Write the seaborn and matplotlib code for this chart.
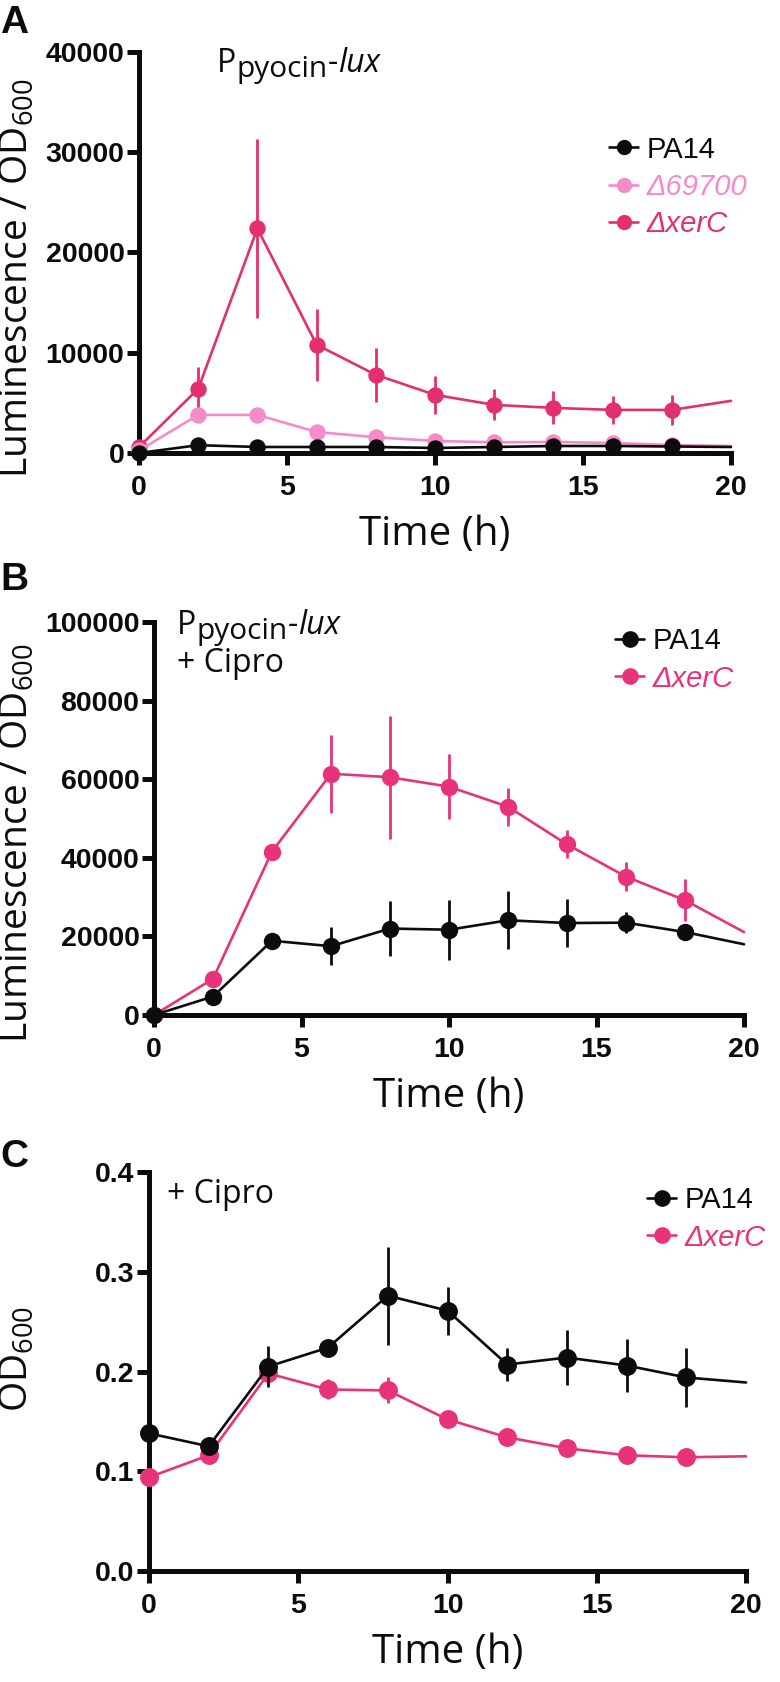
import numpy as np
import pandas as pd
import matplotlib
matplotlib.use("Agg")
import matplotlib.pyplot as plt
import seaborn as sns
from matplotlib import font_manager as fm
from matplotlib.lines import Line2D
from matplotlib.font_manager import FontProperties

# ---------------- data ----------------
time_h = [0, 2, 4, 6, 8, 10, 12, 14, 16, 18, 20]

# Panel A: Ppyocin-lux (no antibiotic)
a_pa14 = [0, 780, 600, 600, 600, 500, 600, 700, 700, 650, 600]
a_pa14_err = [0, 150, 100, 100, 100, 100, 100, 100, 100, 100, 0]
a_d69700 = [250, 3800, 3800, 2100, 1570, 1200, 1070, 1100, 1000, 800, 700]
a_d69700_err = [50, 300, 300, 200, 150, 100, 100, 100, 100, 100, 0]
a_xerc = [600, 6400, 22400, 10800, 7800, 5800, 4800, 4500, 4300, 4300, 5200]
a_xerc_err = [100, 2150, 8900, 3600, 2670, 1870, 1550, 1650, 1420, 1500, 0]

# Panel B: Ppyocin-lux + Cipro
b_pa14 = [0, 4700, 18900, 17500, 22000, 21700, 24100, 23400, 23500, 21100, 18000]
b_pa14_err = [0, 500, 1200, 4800, 7050, 7600, 7400, 6050, 2650, 800, 0]
b_xerc = [0, 9200, 41600, 61400, 60500, 58100, 53000, 43400, 35200, 29200, 21100]
b_xerc_err = [0, 500, 1000, 9900, 15600, 8300, 4800, 3550, 3750, 5400, 0]

# Panel C: OD600 + Cipro
c_pa14 = [0.138, 0.125, 0.205, 0.224, 0.276, 0.261, 0.207, 0.214, 0.206, 0.194, 0.189]
c_pa14_err = [0.004, 0.004, 0.021, 0.008, 0.049, 0.024, 0.017, 0.028, 0.027, 0.030, 0]
c_xerc = [0.094, 0.116, 0.198, 0.182, 0.181, 0.152, 0.134, 0.123, 0.116, 0.114, 0.115]
c_xerc_err = [0.004, 0.004, 0.005, 0.010, 0.013, 0.005, 0.004, 0.004, 0.003, 0.003, 0]

strain_labels = ["PA14", "\u039469700", "\u0394xerC"]
a_yticks = [0, 10000, 20000, 30000, 40000]
b_yticks = [0, 20000, 40000, 60000, 80000, 100000]
c_yticks = [0.0, 0.1, 0.2, 0.3, 0.4]
c_yticklabels = ["0.0", "0.1", "0.2", "0.3", "0.4"]
x_ticks = [0, 5, 10, 15, 20]

# ---------------- fonts ----------------
sns.set_theme(style="ticks")
avail = {(f.name, f.style) for f in fm.fontManager.ttflist}


def pick(cands, style="normal"):
    for c in cands:
        if (c, style) in avail:
            return c
    return cands[-1]


BODY = pick(["Open Sans", "Noto Sans", "Lato", "DejaVu Sans"])
BODY_IT = pick(["Open Sans", "Noto Sans", "Lato", "Liberation Sans", "DejaVu Sans"], "italic")
NARROW = pick(["Liberation Sans Narrow", "Liberation Sans", "DejaVu Sans"])
NARROW_IT = pick(["Liberation Sans Narrow", "Liberation Sans", "DejaVu Sans"], "italic")
BOLD = pick(["Liberation Sans", "DejaVu Sans"])

plt.rcParams["font.family"] = [BODY, "DejaVu Sans"]
plt.rcParams["mathtext.fontset"] = "custom"
plt.rcParams["mathtext.rm"] = BODY
plt.rcParams["mathtext.it"] = BODY_IT + ":italic"
plt.rcParams["mathtext.bf"] = BODY + ":bold"

BLACK = "#0c0c0c"
XERC_A = "#e2306f"
XERC = "#e8337a"
D697 = "#f58bc8"

W, H = 780, 1682
fig = plt.figure(figsize=(W / 100, H / 100), dpi=100)
fig.patch.set_facecolor("white")


def fx(px):
    return px / W


def fy(py):
    return 1 - py / H


def add_axes(l, t, r, b):
    return fig.add_axes([fx(l), fy(b), fx(r) - fx(l), fy(t) - fy(b)])


axA = add_axes(139, 52, 731, 453)
axB = add_axes(154, 622, 744, 1015)
axC = add_axes(149, 1172, 746, 1571)


def draw_series(ax, y, err, color, ms, z):
    sns.lineplot(x=time_h, y=y, ax=ax, color=color, linewidth=1.9,
                 marker="o", markersize=ms, markeredgewidth=0,
                 markeredgecolor=color, markevery=list(range(len(time_h) - 1)),
                 clip_on=False, zorder=z, legend=False)
    n = len(time_h) - 1
    ax.errorbar(time_h[:n], y[:n], yerr=err[:n], fmt="none", ecolor=color,
                elinewidth=2.0, capsize=0, zorder=z - 0.5, clip_on=False)


def style_axes(ax, ymax, yticks, yticklabels=None):
    ax.set_xlim(0, 20)
    ax.set_ylim(0, ymax)
    ax.set_xticks(x_ticks)
    ax.set_yticks(yticks)
    if yticklabels is not None:
        ax.set_yticklabels(yticklabels)
    sns.despine(ax=ax)
    for s in ["left", "bottom"]:
        ax.spines[s].set_linewidth(3.6)
        ax.spines[s].set_color(BLACK)
        ax.spines[s].set_capstyle("projecting")
    ax.tick_params(axis="both", length=8.5, width=3.6, color=BLACK,
                   labelsize=20.5, labelcolor=BLACK)
    ax.tick_params(axis="x", pad=7)
    ax.tick_params(axis="y", pad=2)
    for lab in ax.get_xticklabels() + ax.get_yticklabels():
        lab.set_fontfamily(BOLD)
        lab.set_fontweight("bold")
    ax.set_xlabel("Time (h)", fontsize=29, labelpad=10, color=BLACK)
    ax.set_facecolor("white")


# ---- Panel A ----
draw_series(axA, a_xerc, a_xerc_err, XERC_A, 11.8, 3)
draw_series(axA, a_d69700, a_d69700_err, D697, 11.8, 4)
draw_series(axA, a_pa14, a_pa14_err, BLACK, 11.8, 5)
style_axes(axA, 40000, a_yticks)

# ---- Panel B ----
draw_series(axB, b_xerc, b_xerc_err, XERC, 12.5, 3)
draw_series(axB, b_pa14, b_pa14_err, BLACK, 12.5, 5)
style_axes(axB, 100000, b_yticks)

# ---- Panel C ----
draw_series(axC, c_xerc, c_xerc_err, XERC, 13.6, 3)
draw_series(axC, c_pa14, c_pa14_err, BLACK, 13.6, 5)
style_axes(axC, 0.4, c_yticks, c_yticklabels)

# y labels
ylab = r"Luminescence / OD$_{600}$"
for ax, yc in [(axA, 278), (axB, 843)]:
    ax.set_ylabel(ylab, fontsize=28, color=BLACK)
    ax.yaxis.set_label_coords(fx(37), fy(yc), transform=fig.transFigure)
axC.set_ylabel(r"OD$_{600}$", fontsize=28, color=BLACK)
axC.yaxis.set_label_coords(fx(37), fy(1359), transform=fig.transFigure)

# panel letters
for letter, base in [("A", 33), ("B", 590), ("C", 1167)]:
    fig.text(fx(0), fy(base), letter, fontsize=28, fontweight="bold",
             family=BOLD, va="baseline", ha="left", color=BLACK)

# titles (P with subscript "pyocin", then italic "lux")
renderer = fig.canvas.get_renderer()


def compose_title(x_px, base_px, size=23):
    parts = [("P", size, "normal", 0), ("pyocin", size - 1.5, "normal", 5),
             ("-", size, "normal", 0), ("lux", size, "italic", 0)]
    x = x_px
    for s, fs, st, dy in parts:
        fam = BODY_IT if st == "italic" else BODY
        t = fig.text(fx(x), fy(base_px + dy), s, fontsize=fs, fontstyle=st,
                     family=fam, va="baseline", ha="left", color=BLACK)
        x += t.get_window_extent(renderer=renderer).width


compose_title(217, 72)
compose_title(177, 634)
fig.text(fx(177), fy(672), "+ Cipro", fontsize=23, va="baseline", ha="left", color=BLACK)
fig.text(fx(167), fy(1203), "+ Cipro", fontsize=23, va="baseline", ha="left", color=BLACK)


# legends
def add_legend(ax, entries, x_px, yc_px, ms):
    handles = [Line2D([], [], color=c, marker="o", markersize=ms,
                      markeredgewidth=0, linewidth=1.9) for _, c in entries]
    labels = [l for l, _ in entries]
    leg = ax.legend(handles, labels, loc="center left",
                    bbox_to_anchor=(fx(x_px), fy(yc_px)),
                    bbox_transform=fig.transFigure, frameon=False,
                    borderpad=0, borderaxespad=0, handlelength=1.0,
                    handletextpad=0.3, labelspacing=0.32,
                    prop=FontProperties(family=NARROW, size=21))
    for txt, (l, c) in zip(leg.get_texts(), entries):
        txt.set_color(c)
        if l != "PA14":
            txt.set_fontfamily(NARROW_IT)
            txt.set_fontstyle("italic")
    return leg


add_legend(axA, [(strain_labels[0], BLACK), (strain_labels[1], D697),
                 (strain_labels[2], XERC_A)], 609, 187, 11)
add_legend(axB, [(strain_labels[0], BLACK), (strain_labels[2], XERC)], 615, 660, 12)
add_legend(axC, [(strain_labels[0], BLACK), (strain_labels[2], XERC)], 647, 1219, 12)

fig.savefig("out.png", dpi=100, facecolor="white")
